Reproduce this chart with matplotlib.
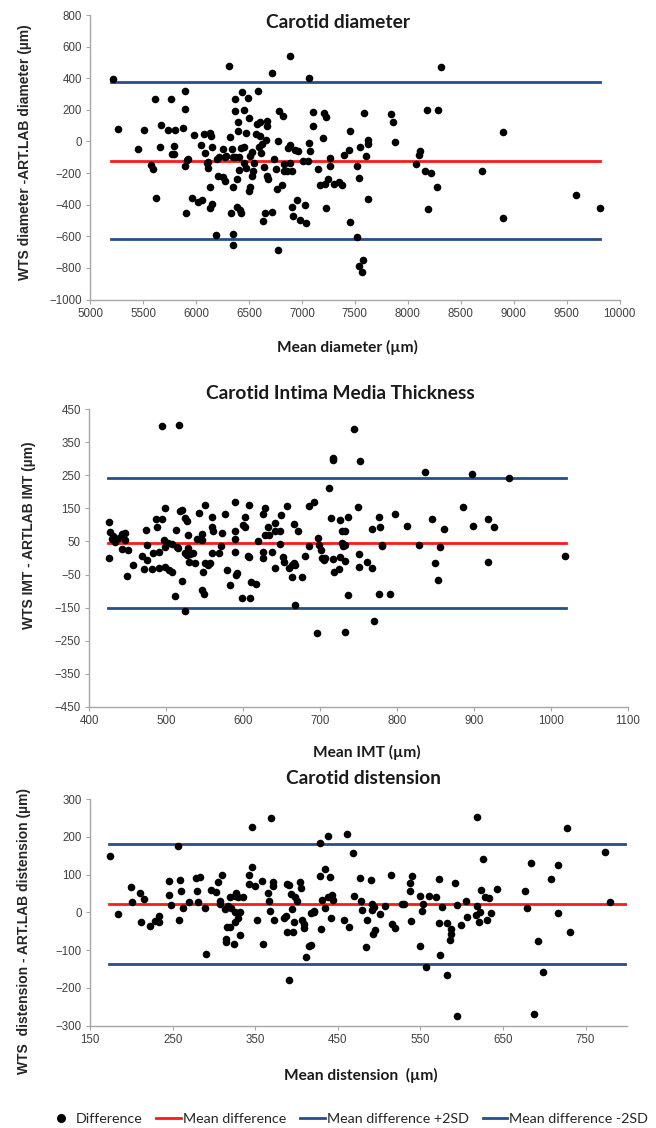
import matplotlib
matplotlib.use("Agg")
import matplotlib.pyplot as plt
from matplotlib.lines import Line2D
import numpy as np

# ---------------- DATA ----------------
# Panel 1: Carotid diameter
diam_mean = [5218, 5261, 5455, 5510, 5573, 5597, 5609, 5617, 5656, 5672, 5735, 5767, 5771, 5791, 5799, 5787,
             5878, 5894, 5894, 5898, 5902, 5918, 5926, 5961, 5977, 6017, 6053, 6049, 6073, 6089, 6105, 6109,
             6117, 6128, 6136, 6140, 6148, 6148, 6136, 6192, 6200, 6219, 6211, 6255, 6255, 6275, 6275, 6287,
             6311, 6319, 6326, 6342, 6346, 6346, 6346, 6346, 6366, 6366, 6370, 6385, 6385, 6393, 6397, 6405,
             6405, 6413, 6421, 6429, 6437, 6449, 6449, 6457, 6472, 6476, 6488, 6500, 6500, 6508, 6512, 6524,
             6532, 6536, 6551, 6563, 6579, 6583, 6591, 6603, 6607, 6618, 6622, 6638, 6634, 6654, 6658, 6670,
             6670, 6670, 6681, 6713, 6717, 6733, 6753, 6769, 6777, 6777, 6781, 6812, 6820, 6828, 6832, 6856,
             6864, 6888, 6888, 6888, 6903, 6907, 6915, 6931, 6958, 6966, 6982, 7013, 7025, 7041, 7061, 7068,
             7068, 7080, 7104, 7108, 7155, 7167, 7203, 7211, 7226, 7219, 7226, 7250, 7262, 7266, 7306, 7353,
             7377, 7393, 7441, 7456, 7456, 7516, 7524, 7536, 7547, 7543, 7567, 7575, 7583, 7603, 7622, 7622,
             7626, 7840, 7864, 7876, 8080, 8104, 8119, 8159, 8183, 8191, 8222, 8274, 8290, 8310, 8702, 8896,
             8904, 9589, 9818]
diam_diff = [397, 81, -48, 75, -148, -173, 266, -358, -33, 101, 72, 266, -80, -27, 72, -80,
             87, 321, -154, 205, -451, -120, -108, -358, 42, -384, -373, -21, 49, -72, -135, -165,
             -133, -289, 51, 32, -33, -398, -424, -589, -109, -97, -219, -225, -48, -251, -97, -93,
             475, 27, -455, -48, -101, -289, -588, -654, 270, 190, -101, -236, -413, 120, 65, -97,
             -179, -432, -455, -40, 312, -36, -135, 199, 51, -167, 277, 146, -316, -89, -289, -217,
             -65, -188, -135, 46, 112, 321, -38, 34, 120, -74, -17, -163, -504, -455, 11, 131,
             95, -221, -238, -449, 435, -109, -175, -304, 4, -686, 190, -278, 158, -141, -184, -190,
             -44, 543, -21, -135, -190, -413, -472, -57, -373, -61, -496, -124, -403, -513, -122, 403,
             -11, -61, 184, 97, -175, -278, 19, 180, 154, -272, -418, -238, -107, -154, -270, -255,
             -278, -84, -53, 67, -510, -603, -154, -234, -36, -787, -823, -749, 177, -89, 11, -15,
             -363, 173, 122, -6, -141, -84, -59, -185, 201, -430, -200, -289, 201, 471, -185, 59,
             -485, -337, -424]
diam_lines = [-122, 374, -616]          # mean, +2SD, -2SD
diam_line_x = [5200, 9820]

# Panel 2: Carotid IMT
imt_mean = [426, 427, 426, 429, 431, 433, 439, 442, 447, 442, 446, 450, 449, 457, 468, 471, 474, 475, 475, 481,
            483, 487, 488, 491, 491, 494, 494, 498, 497, 498, 499, 502, 503, 507, 507, 512, 513, 514, 515, 516,
            518, 520, 521, 524, 524, 525, 527, 527, 528, 528, 530, 531, 535, 537, 540, 543, 546, 546, 547, 548,
            549, 550, 551, 554, 557, 559, 559, 559, 561, 569, 571, 573, 577, 579, 583, 589, 589, 590, 589, 591,
            592, 598, 600, 602, 603, 606, 607, 609, 608, 610, 617, 619, 626, 626, 626, 628, 629, 632, 634, 638,
            641, 642, 642, 648, 648, 649, 652, 653, 657, 660, 663, 663, 666, 666, 667, 668, 671, 676, 681, 685,
            686, 692, 697, 696, 698, 701, 702, 705, 707, 712, 714, 717, 717, 717, 718, 725, 726, 726, 728, 729,
            730, 732, 732, 733, 733, 736, 736, 744, 749, 751, 751, 752, 761, 767, 768, 770, 777, 777, 778, 780,
            781, 791, 797, 813, 829, 837, 845, 849, 853, 856, 861, 886, 898, 899, 918, 918, 926, 946, 1019]
imt_diff = [109, 78, -1, 57, 68, 48, 60, 74, 55, 27, 77, 25, -53, -21, 6, -34, 84, 39, -7, -34,
            15, 118, 94, 18, -29, 118, 398, 151, 54, 32, -27, 44, -36, -42, 41, -115, 85, 34, 29, 403,
            141, 146, -71, 14, -161, 122, 113, 8, 70, 31, -11, 11, 16, -16, 57, 135, -97, 73, 53, -41,
            -109, 160, -16, -22, -14, 125, 14, 94, 81, 15, 36, 77, 132, -37, -81, 170, 83, 58, 18, -52,
            -44, -122, 101, 124, 95, 7, 160, -120, 4, -74, -80, 51, 133, -1, 19, 152, 70, 94, 70, 18,
            106, -29, 83, 42, 83, 131, 2, -13, 157, -30, -57, -21, 104, -16, -143, -21, 81, -58, 6, 157,
            35, 169, 61, -227, 39, 24, -1, -7, -1, 211, 121, 303, 296, -4, -41, -32, 114, 4, 81, 46,
            36, -224, 38, 81, -10, -112, 123, 389, 153, 12, -26, 294, -11, 88, -30, -190, -108, 124, 94, 39,
            35, -110, 134, 98, 38, 260, 117, -16, -66, 34, 88, 155, 254, 96, 117, -11, 94, 241, 5]
imt_lines = [45, 243, -152]
imt_line_x = [424, 1020]

# Panel 3: Carotid distension
dist_mean = [174, 184, 199, 201, 211, 212, 215, 223, 229, 233, 234, 245, 246, 248, 257, 258, 259, 260, 262, 270,
             278, 279, 281, 283, 289, 290, 296, 303, 305, 307, 307, 310, 313, 314, 314, 316, 317, 319, 320, 321,
             324, 325, 326, 326, 327, 329, 329, 331, 332, 335, 342, 343, 346, 346, 350, 352, 358, 359, 365, 367,
             368, 369, 371, 372, 373, 385, 387, 388, 389, 391, 391, 393, 395, 396, 397, 398, 401, 404, 406, 407,
             409, 409, 411, 415, 417, 418, 421, 421, 428, 428, 430, 431, 435, 435, 438, 438, 441, 442, 443, 444,
             457, 461, 463, 468, 470, 477, 478, 479, 484, 485, 490, 492, 492, 493, 494, 495, 501, 507, 514, 516,
             519, 528, 530, 537, 538, 539, 540, 549, 550, 552, 553, 557, 560, 569, 572, 572, 574, 576, 582, 582,
             587, 587, 586, 592, 594, 594, 599, 605, 606, 617, 618, 619, 621, 622, 624, 626, 628, 631, 633, 635,
             643, 677, 679, 684, 688, 693, 699, 708, 717, 717, 728, 731, 773, 780]
dist_diff = [148, -4, 66, 28, 50, -26, 36, -37, -23, -26, -9, 45, 82, 19, 176, -21, 86, 56, 11, 27,
             90, 57, 28, 94, 11, -109, 59, 55, 80, 22, 30, 98, 9, -78, -70, -40, 16, -39, 40, 12,
             -84, 42, 2, -26, 52, -16, 41, -59, 1, 40, 98, 74, 121, 225, 70, -19, 83, -84, 52, 30,
             4, 249, 71, 80, -19, -16, -9, 75, -52, 73, -179, 48, 9, -51, -25, 40, 31, 80, 65, -19,
             -41, -30, -118, -88, -86, -1, 3, 2, 183, 95, -45, 34, 115, 11, 41, 203, 93, -14, 46, 34,
             -20, 207, -39, 157, 44, 92, 30, 6, -93, -20, 86, 6, 22, -57, 13, -48, -4, 17, 98, -32,
             -42, 21, 23, 56, 79, -22, 96, -88, 44, 4, 21, -145, 44, 41, -27, 87, -113, 14, -28, -165,
             -44, -57, -72, 78, 19, -275, -33, 30, -12, -8, 252, 16, -26, 1, 60, 142, 40, -21, 38, -1,
             62, 57, 11, 130, -270, -75, -157, 87, 125, -1, 223, -52, 161, 27]
dist_lines = [22, 182, -137]
dist_line_x = [173, 800]

legend_labels = ["Difference", "Mean difference", "Mean difference +2SD", "Mean difference -2SD"]

# ---------------- STYLE ----------------
RED = "#ff1a1a"
BLUE = "#234f8a"
SPINE = "#a6a6a6"
TICKC = "#404040"
W, H = 656, 1128

fig = plt.figure(figsize=(W / 100, H / 100), dpi=100)


def box(l, r, t, b):
    return [l / W, 1 - b / H, (r - l) / W, (b - t) / H]


def style(ax, xlim, xticks, ylim, yticks):
    ax.set_xlim(*xlim)
    ax.set_ylim(*ylim)
    ax.set_xticks(xticks)
    ax.set_yticks(yticks)
    for s in ("top", "right"):
        ax.spines[s].set_visible(False)
    for s in ("left", "bottom"):
        ax.spines[s].set_color(SPINE)
        ax.spines[s].set_linewidth(1.0)
    ax.tick_params(axis="both", direction="out", length=3, width=0.8, color=SPINE,
                   labelsize=8.3, labelcolor=TICKC, pad=3)
    for lab in ax.get_xticklabels() + ax.get_yticklabels():
        lab.set_fontfamily("Liberation Sans")


def draw(ax, xm, yd, lines, lx):
    ax.scatter(xm, yd, s=30, color="black", zorder=3, linewidths=0)
    ax.plot(lx, [lines[0]] * 2, color=RED, lw=2.0, zorder=2)
    ax.plot(lx, [lines[1]] * 2, color=BLUE, lw=2.0, zorder=2)
    ax.plot(lx, [lines[2]] * 2, color=BLUE, lw=2.0, zorder=2)


TFONT = dict(family="Lato", weight="bold", color="#1a1a1a")
YFONT = dict(family="Liberation Sans", weight="bold", color="#262626")

# Panel 1
ax1 = fig.add_axes(box(90.2, 619.5, 15, 299.5))
draw(ax1, diam_mean, diam_diff, diam_lines, diam_line_x)
style(ax1, (5000, 10000), np.arange(5000, 10001, 500), (-1000, 800), np.arange(-1000, 801, 200))
fig.text(337.5 / W, 1 - 22 / H, "Carotid diameter", ha="center", va="center", fontsize=13.8, **TFONT)
fig.text(347 / W, 1 - 347 / H, "Mean diameter (µm)", ha="center", va="center", fontsize=11.2, **TFONT)
fig.text(25 / W, 1 - 152 / H, "WTS diameter -ART.LAB diameter (µm)", ha="center", va="center",
         rotation=90, fontsize=10, **YFONT)

# Panel 2
ax2 = fig.add_axes(box(89.3, 627.7, 409.3, 706.7))
draw(ax2, imt_mean, imt_diff, imt_lines, imt_line_x)
style(ax2, (400, 1100), np.arange(400, 1101, 100), (-450, 450), np.arange(-450, 451, 100))
fig.text(340.7 / W, 1 - 394 / H, "Carotid Intima Media Thickness", ha="center", va="center", fontsize=13.8, **TFONT)
fig.text(367 / W, 1 - 752 / H, "Mean IMT (µm)", ha="center", va="center", fontsize=11.2, **TFONT)
fig.text(29 / W, 1 - 535 / H, "WTS IMT - ARTLAB IMT (µm)", ha="center", va="center",
         rotation=90, fontsize=10, **YFONT)

# Panel 3
ax3 = fig.add_axes(box(90.1, 626.8, 799, 1025.7))
draw(ax3, dist_mean, dist_diff, dist_lines, dist_line_x)
style(ax3, (150, 800), np.arange(150, 751, 100), (-300, 300), np.arange(-300, 301, 100))
fig.text(363 / W, 1 - 779 / H, "Carotid distension", ha="center", va="center", fontsize=13.8, **TFONT)
fig.text(360.6 / W, 1 - 1075 / H, "Mean distension  (µm)", ha="center", va="center", fontsize=11.2, **TFONT)
fig.text(24 / W, 1 - 931 / H, "WTS  distension - ART.LAB distension (µm)", ha="center", va="center",
         rotation=90, fontsize=10, **YFONT)

# Legend
handles = [
    Line2D([], [], marker="o", linestyle="none", color="black", markersize=5.5),
    Line2D([], [], color=RED, lw=2),
    Line2D([], [], color=BLUE, lw=2),
    Line2D([], [], color=BLUE, lw=2),
]
leg = fig.legend(handles, legend_labels, loc="center", bbox_to_anchor=(348.6 / W, 1 - 1119 / H),
                 ncol=4, frameon=False, handlelength=1.7, handletextpad=0.15, columnspacing=1.0,
                 prop=dict(family="Lato", size=10.3))
for t in leg.get_texts():
    t.set_color("#262626")

fig.savefig("out.png", dpi=100)
